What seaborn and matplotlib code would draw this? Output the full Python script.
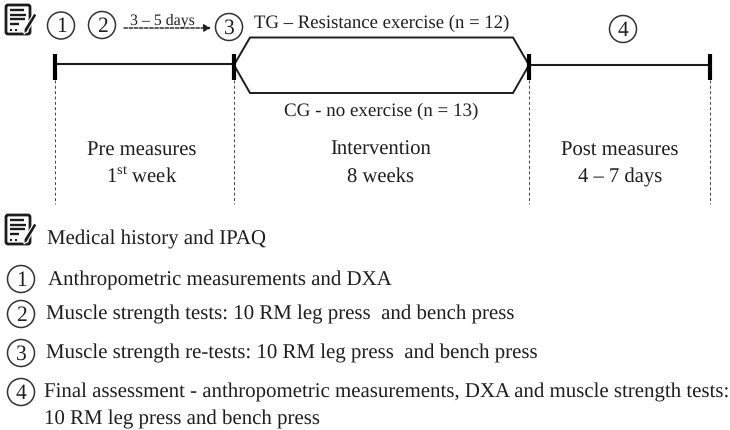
import matplotlib
matplotlib.use("Agg")
import matplotlib.pyplot as plt
from matplotlib.patches import Circle, FancyBboxPatch, Polygon
import pandas as pd
import seaborn as sns

INK = "#1c1c1c"
TEXT = "#1f1f1f"

phase_edges = [55, 234, 529, 710]
phase_names = ["Pre measures", "Intervention", "Post measures"]
phase_times = [r"1$^{\mathrm{st}}$ week", "8 weeks", "4 – 7 days"]
phase_centers = [142, 381, 620]

group_top = "TG – Resistance exercise (n = 12)"
group_bottom = "CG - no exercise (n = 13)"
gap_label = "3 – 5 days"

marker_labels = ["1", "2", "3", "4"]
marker_x = [61, 102, 229, 623]
marker_y = [26.5, 26, 28, 30]

legend_text = [
    "Medical history and IPAQ",
    "Anthropometric measurements and DXA",
    "Muscle strength tests: 10 RM leg press  and bench press",
    "Muscle strength re-tests: 10 RM leg press  and bench press",
    "Final assessment - anthropometric measurements, DXA and muscle strength tests:",
    "10 RM leg press and bench press",
]
legend_x = [47, 48, 46, 46, 44, 44]
legend_y = [239, 280, 314, 353, 392, 419]
legend_marker_y = [280, 315, 354, 393]

sns.set_theme(style="white")
plt.rcParams["font.family"] = ["Liberation Serif", "DejaVu Sans"]
plt.rcParams["mathtext.fontset"] = "custom"
plt.rcParams["mathtext.rm"] = "Liberation Serif"
plt.rcParams["text.hinting"] = "none"

fig, ax = plt.subplots(figsize=(7.30, 4.31), dpi=100)
fig.subplots_adjust(0, 0, 1, 1)
ax.set_xlim(0, 730)
ax.set_ylim(431, 0)
ax.axis("off")


def draw_line(xs, ys, **kw):
    df = pd.DataFrame({"x": xs, "y": ys})
    sns.lineplot(data=df, x="x", y="y", sort=False, estimator=None, ax=ax,
                 color=kw.pop("color", INK), legend=False, solid_capstyle="butt", **kw)


def draw_marker(x, y, label, r=13.5, size=15.5):
    ax.add_patch(Circle((x, y), r, fill=False, ec="#333333", lw=1.1))
    ax.text(x, y + 0.5, label, ha="center", va="center", fontsize=size, color=TEXT)


def draw_icon(x, y):
    ax.add_patch(FancyBboxPatch((x + 1, y + 1), 24, 29, boxstyle="round,pad=0,rounding_size=2",
                                fc="white", ec=INK, lw=2))
    for i, w in enumerate([14, 16, 15, 9]):
        draw_line([x + 5, x + 5 + w], [y + 6 + i * 4.5] * 2, lw=1.7)
    ax.add_patch(Polygon([(x + 5, y + 25), (x + 7, y + 25), (x + 7, y + 27), (x + 5, y + 27)], fc=INK, ec="none"))
    ax.add_patch(Polygon([(x + 10, y + 25), (x + 12, y + 25), (x + 12, y + 27), (x + 10, y + 27)], fc=INK, ec="none"))
    ax.add_patch(Polygon([(x + 29, y + 9), (x + 32, y + 11), (x + 22, y + 28), (x + 19, y + 30), (x + 19, y + 25)],
                         fc=INK, ec="white", lw=0.8))


# timeline
draw_line(phase_edges[:2], [64.5, 64.5], lw=1.5)
draw_line(phase_edges[2:], [66, 66], lw=1.5)
hex_x = [234, 250, 513, 529, 513, 250, 234]
hex_y = [66, 38.5, 38.5, 66, 94, 94, 66]
draw_line(hex_x, hex_y, lw=1.4)
for x in phase_edges:
    draw_line([x, x], [55, 81], lw=3.0, color="black")
    draw_line([x, x], [81, 205], lw=0.7, ls=(0, (3, 2.5)), color="#444444")

# dashed arrow between 2 and 3
ax.annotate("", xy=(211, 29), xytext=(124, 29),
            arrowprops=dict(arrowstyle="-|>,head_width=0.18,head_length=0.35", ls=(0, (2.5, 1.2)),
                            lw=1.0, color=INK, shrinkA=0, shrinkB=0))
ax.text(162, 20.5, gap_label, ha="center", va="center", fontsize=11.4, color=TEXT)

ax.text(382, 23.5, group_top, ha="center", va="center", fontsize=13.5, color=TEXT)
ax.text(381, 111.5, group_bottom, ha="center", va="center", fontsize=13.65, color=TEXT)

for cx, name, when in zip(phase_centers, phase_names, phase_times):
    ax.text(cx, 150, name, ha="center", va="center", fontsize=14.9, color=TEXT)
    ax.text(cx, 177, when, ha="center", va="center", fontsize=14.9, color=TEXT)

for x, y, lab in zip(marker_x, marker_y, marker_labels):
    draw_marker(x, y, lab)

# key
draw_icon(5, 5)
draw_icon(5, 215)
for y, lab in zip(legend_marker_y, marker_labels):
    draw_marker(21, y, lab)
for x, y, txt in zip(legend_x, legend_y, legend_text):
    ax.text(x, y, txt, ha="left", va="center", fontsize=15, color=TEXT)

fig.savefig("out.png", dpi=100)
plt.close(fig)
